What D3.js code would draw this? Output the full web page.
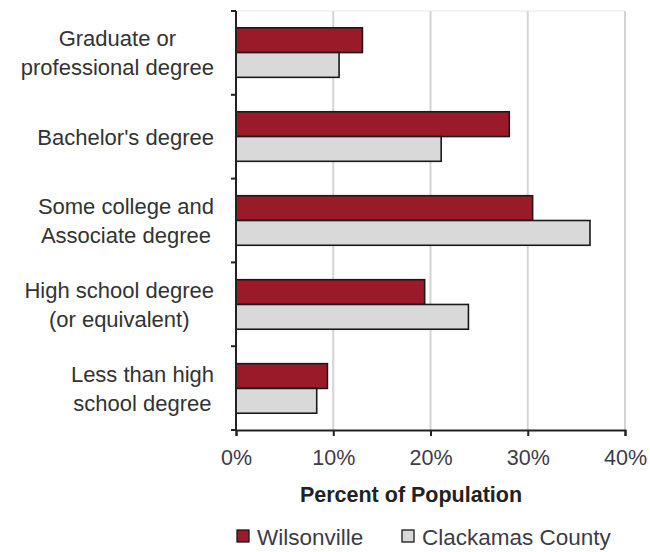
<!DOCTYPE html>
<html>
<head>
<meta charset="utf-8">
<script src="https://cdn.jsdelivr.net/npm/d3@7"></script>
<style>
  html, body { margin: 0; padding: 0; background: #fff; }
  svg { display: block; }
  text { font-family: "Liberation Sans", Arial, sans-serif; }
</style>
</head>
<body>
<svg id="chart" width="650" height="552"></svg>
<script>
const categories = [
  ["Graduate or", "professional degree"],
  ["Bachelor's degree"],
  ["Some college and", "Associate degree"],
  ["High school degree", "(or equivalent)"],
  ["Less than high", "school degree"]
];
const seriesNames = ["Wilsonville", "Clackamas County"];
const wilsonville = [0.130, 0.281, 0.305, 0.194, 0.094];
const clackamas   = [0.106, 0.211, 0.364, 0.239, 0.083];
const xTicks = [0, 0.1, 0.2, 0.3, 0.4];
const tickLabels = ["0%", "10%", "20%", "30%", "40%"];
const colors = ["#9b1a2a", "#d9d9d9"];

(function () {
const svg = d3.select("#chart");
const pLeft = 236, pRight = 625, pTop = 11, pBottom = 430;

const x = d3.scaleLinear().domain([0, 0.4]).range([pLeft, pRight]);
const keys = categories.map((c, i) => i);
const y = d3.scaleBand().domain(keys).range([pTop, pBottom]).paddingInner(0.41).paddingOuter(0.2);
const ySub = d3.scaleBand().domain([0, 1]).range([0, y.bandwidth()]);

// gridlines
svg.append("g").selectAll("line").data(xTicks.slice(1)).join("line")
  .attr("x1", d => x(d)).attr("x2", d => x(d))
  .attr("y1", pTop).attr("y2", pBottom)
  .attr("stroke", "#d4d4d4").attr("stroke-width", 2);
svg.append("line").attr("x1", pLeft).attr("x2", pRight).attr("y1", pTop).attr("y2", pTop)
  .attr("stroke", "#e6e6e6").attr("stroke-width", 1);

// bars
const data = [wilsonville, clackamas];
const g = svg.append("g");
data.forEach((vals, s) => {
  g.selectAll(null).data(vals).join("rect")
    .attr("x", x(0))
    .attr("y", (d, i) => y(i) + ySub(s))
    .attr("width", d => x(d) - x(0))
    .attr("height", ySub.bandwidth())
    .attr("fill", colors[s])
    .attr("stroke", "#1a1a1a")
    .attr("stroke-width", 1.6);
});

// y axis line and ticks at band boundaries
const yBounds = d3.range(keys.length + 1).map(i => pTop + i * (pBottom - pTop) / keys.length);
svg.append("line").attr("x1", pLeft).attr("x2", pLeft).attr("y1", pTop).attr("y2", pBottom)
  .attr("stroke", "#222").attr("stroke-width", 2);
svg.append("g").selectAll("line").data(yBounds).join("line")
  .attr("x1", pLeft - 5).attr("x2", pLeft).attr("y1", d => d).attr("y2", d => d)
  .attr("stroke", "#222").attr("stroke-width", 2);

// x axis
const xAxis = d3.axisBottom(x).tickValues(xTicks).tickFormat((d, i) => tickLabels[i]).tickSize(6).tickPadding(14);
const xg = svg.append("g").attr("transform", `translate(0,${pBottom})`).call(xAxis);
xg.select(".domain").attr("stroke", "#222").attr("stroke-width", 2);
xg.selectAll(".tick line").attr("stroke", "#222").attr("stroke-width", 2);
xg.selectAll(".tick text").attr("font-size", 21.5).attr("fill", "#3c3c48")
  .attr("font-family", "'Liberation Sans', Arial, sans-serif");

// category labels: block right-aligned, lines centred within block
const lab = svg.append("g");
const labelRight = 214, lh = 28.5, fs = 22;
categories.forEach((lines, i) => {
  const cy = y(i) + y.bandwidth() / 2;
  const tmp = lines.map(ln => {
    const t = lab.append("text").attr("font-size", fs).text(ln);
    const w = t.node().getComputedTextLength();
    t.remove();
    return w;
  });
  const blockW = d3.max(tmp);
  const cx = labelRight - blockW / 2;
  lines.forEach((ln, j) => {
    lab.append("text").attr("text-anchor", "middle").attr("font-size", fs).attr("fill", "#333")
      .attr("x", cx)
      .attr("y", cy + (j - (lines.length - 1) / 2) * lh + 8)
      .text(ln);
  });
});

// axis title
svg.append("text").attr("x", 411).attr("y", 502).attr("text-anchor", "middle")
  .attr("font-size", 21.5).attr("font-weight", "bold").attr("fill", "#222")
  .text("Percent of Population");

// legend
const legendX = [237, 402];
seriesNames.forEach((name, s) => {
  svg.append("rect").attr("x", legendX[s]).attr("y", 530).attr("width", 12).attr("height", 12)
    .attr("fill", colors[s]).attr("stroke", "#1a1a1a").attr("stroke-width", 1.3);
  svg.append("text").attr("x", legendX[s] + 20).attr("y", 545).attr("font-size", 22.5)
    .attr("fill", "#3c3c48").text(name);
});
})();
</script>
</body>
</html>
